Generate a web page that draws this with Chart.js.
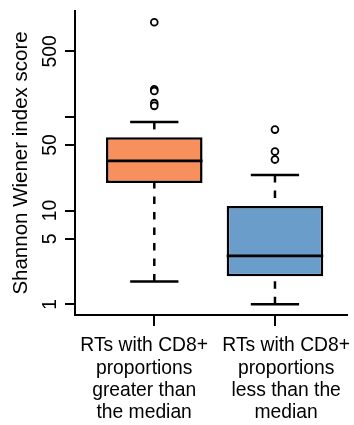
<!DOCTYPE html>
<html><head><meta charset="utf-8">
<script src="https://cdn.jsdelivr.net/npm/chart.js@4.4.1/dist/chart.umd.min.js"></script>
<style>html,body{margin:0;padding:0;background:#fff}#wrap{width:354px;height:425px;position:relative}</style>
</head><body><div id="wrap"><canvas id="c"></canvas></div>
<script>
// ---- data ----
const categories = [
  ["RTs with CD8+", "proportions", "greater than", "the median"],
  ["RTs with CD8+", "proportions", "less than the", "median"]
];
const positions = [1, 2];
const labelPositions = [0.916, 2.093];
const q1 = [19.7, 2.0];
const medians = [33.9, 3.29];
const q3 = [60.6, 11.2];
const whiskerLow = [1.75, 1.0];
const whiskerHigh = [88.3, 24.0];
const outliers = [[1020, 197, 189, 140, 131], [73.1, 42.6, 35.0]];
const boxColors = ['#F7905D', '#6B9DCB'];
const yTickValues = [1, 5, 10, 50, 100, 500];
const yTickLabels = ['1', '5', '10', '50', '', '500'];
const yTitle = 'Shannon Wiener index score';

const FONT = "'Liberation Sans', Arial, sans-serif";
const BOX_HALF = 0.4, CAP_HALF = 0.2;
const X_MIN = 0.343, X_MAX = 2.597;

function lineDs(points, dashed, width, order) {
  return {
    type: 'line', data: points, borderColor: '#000', borderWidth: width || 2.5,
    borderDash: dashed ? [7.5, 8] : [], pointRadius: 0, pointHoverRadius: 0,
    fill: false, tension: 0, order: order === undefined ? 2 : order
  };
}

const datasets = [];
datasets.push({
  type: 'bar',
  data: positions.map((p, i) => ({x: p, y: [q1[i], q3[i]]})),
  backgroundColor: boxColors, borderColor: '#000', borderWidth: 2.5,
  borderSkipped: false, barPercentage: 0.8, categoryPercentage: 1, grouped: false, order: 5
});
positions.forEach((p, i) => {
  datasets.push(lineDs([{x: p, y: whiskerHigh[i]}, {x: p, y: q3[i]}], true, 2.5, 3));
  datasets.push(lineDs([{x: p, y: whiskerLow[i]}, {x: p, y: q1[i]}], true, 2.5, 3));
  datasets.push(lineDs([{x: p - CAP_HALF, y: whiskerHigh[i]}, {x: p + CAP_HALF, y: whiskerHigh[i]}], false, 2.5, 2));
  datasets.push(lineDs([{x: p - CAP_HALF, y: whiskerLow[i]}, {x: p + CAP_HALF, y: whiskerLow[i]}], false, 2.5, 2));
  datasets.push(lineDs([{x: p - BOX_HALF, y: medians[i]}, {x: p + BOX_HALF, y: medians[i]}], false, 2.8, 1));
  datasets.push({
    type: 'scatter', data: outliers[i].map(v => ({x: p, y: v})),
    pointRadius: 3.4, pointHoverRadius: 3.4, pointBorderWidth: 1.8,
    pointBackgroundColor: '#fff', pointBorderColor: '#000', showLine: false, order: 0
  });
});

const yLabelPlugin = {
  id: 'yLabels',
  afterDraw(chart) {
    const s = chart.scales.y;
    const ctx = chart.ctx;
    ctx.save();
    ctx.fillStyle = '#000';
    ctx.font = '19.3px ' + FONT;
    ctx.textAlign = 'center';
    ctx.textBaseline = 'alphabetic';
    yTickValues.forEach((v, i) => {
      if (!yTickLabels[i]) return;
      const y = s.getPixelForValue(v);
      ctx.save();
      ctx.translate(s.right - 19.5, y);
      ctx.rotate(-Math.PI / 2);
      ctx.fillText(yTickLabels[i], 0, 0);
      ctx.restore();
    });
    ctx.restore();
  }
};

function noSidePadding(s) {
  s.paddingLeft = 0; s.paddingRight = 0; s.paddingTop = 0; s.paddingBottom = 0;
}

new Chart(document.getElementById('c'), {
  type: 'bar',
  data: {datasets},
  plugins: [yLabelPlugin],
  options: {
    responsive: true, maintainAspectRatio: false, animation: false,
    layout: {padding: {top: 11, right: 7, left: 0, bottom: 0}},
    plugins: {legend: {display: false}, tooltip: {enabled: false}},
    scales: {
      x: {
        type: 'linear', min: X_MIN, max: X_MAX, offset: false, position: 'bottom', weight: 0,
        afterBuildTicks: s => { s.ticks = positions.map(v => ({value: v})); },
        afterFit: s => { s.height = 12; noSidePadding(s); },
        grid: {display: true, offset: false, drawOnChartArea: false, drawTicks: true, tickLength: 11, color: '#000', lineWidth: 2},
        border: {display: true, color: '#000', width: 2},
        ticks: {display: false}
      },
      x2: {
        type: 'linear', min: X_MIN, max: X_MAX, offset: false, position: 'bottom', weight: 1,
        afterBuildTicks: s => { s.ticks = labelPositions.map(v => ({value: v})); },
        afterFit: s => { s.height = 98; noSidePadding(s); },
        grid: {display: false, drawOnChartArea: false, drawTicks: false},
        border: {display: false},
        ticks: {
          color: '#000', font: {family: FONT, size: 19.3, lineHeight: 22.2 / 19.3},
          padding: 8, maxRotation: 0, minRotation: 0, autoSkip: false,
          callback: (v, i) => categories[i]
        }
      },
      y: {
        type: 'logarithmic', min: 0.77, max: 1345,
        afterBuildTicks: s => { s.ticks = yTickValues.map(v => ({value: v})); },
        afterFit: s => { s.width = 75; noSidePadding(s); },
        grid: {display: true, drawOnChartArea: false, drawTicks: true, tickLength: 10, color: '#000', lineWidth: 2},
        border: {display: true, color: '#000', width: 2},
        ticks: {display: false},
        title: {display: true, text: yTitle, color: '#000', font: {family: FONT, size: 20.5, lineHeight: 1}, padding: {top: 11, bottom: 0}}
      }
    }
  }
});
</script>
</body></html>
